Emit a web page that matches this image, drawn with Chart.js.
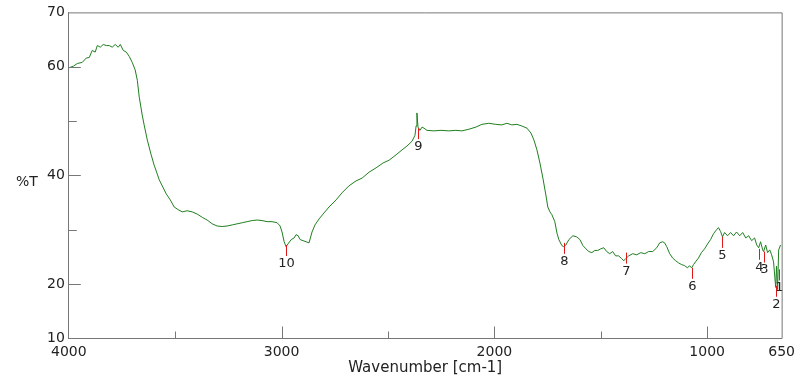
<!DOCTYPE html>
<html>
<head>
<meta charset="utf-8">
<script src="https://cdn.jsdelivr.net/npm/chart.js@4/dist/chart.umd.min.js"></script>
<style>
  body { margin: 0; background: #fff; }
  #wrap { width: 802px; height: 378px; }
</style>
</head>
<body>
<div id="wrap"><canvas id="irChart"></canvas></div>
<script>
// spectrum (wavenumber cm-1 / %T)
const wavenumbers = [
    4000, 3979, 3960, 3937, 3918, 3904, 3890, 3876, 3866, 3852, 3838, 3824, 3810, 3796, 3782, 3768,
    3758, 3744, 3730, 3716, 3702, 3688, 3678, 3669, 3655, 3646, 3631, 3613, 3599, 3575, 3556, 3542,
    3523, 3505, 3486, 3467, 3444, 3420, 3397, 3373, 3350, 3326, 3303, 3279, 3256, 3232, 3209, 3185,
    3162, 3138, 3115, 3092, 3068, 3045, 3021, 3007, 2998, 2988, 2979, 2970, 2955, 2941, 2932, 2922,
    2913, 2899, 2885, 2871, 2857, 2843, 2824, 2805, 2777, 2744, 2716, 2683, 2650, 2622, 2589, 2556,
    2523, 2495, 2462, 2434, 2411, 2387, 2373, 2368, 2364, 2359, 2350, 2340, 2331, 2317, 2284, 2251,
    2214, 2181, 2153, 2120, 2087, 2059, 2026, 1993, 1965, 1941, 1918, 1894, 1871, 1847, 1828, 1814,
    1800, 1786, 1772, 1758, 1749, 1739, 1730, 1716, 1706, 1697, 1683, 1674, 1664, 1650, 1631, 1613,
    1598, 1584, 1570, 1556, 1542, 1528, 1514, 1500, 1486, 1472, 1458, 1444, 1430, 1416, 1402, 1392,
    1383, 1369, 1350, 1331, 1312, 1293, 1275, 1256, 1237, 1223, 1209, 1200, 1190, 1176, 1162, 1148,
    1134, 1120, 1106, 1092, 1083, 1073, 1064, 1055, 1041, 1027, 1012, 998, 984, 970, 956, 947,
    937, 928, 918, 904, 890, 876, 862, 847, 833, 819, 805, 791, 777, 767, 758, 749,
    739, 735, 725, 716, 706, 697, 688, 678, 674, 669, 664, 655
];
const transmittance = [
    59.8, 60.1, 60.6, 60.8, 61.6, 61.7, 63.0, 62.7, 63.9, 63.6, 64.1, 63.9, 63.9, 63.6, 64.1, 63.6,
    64.1, 63.0, 62.7, 61.9, 60.8, 59.4, 57.5, 54.4, 51.1, 49.3, 46.5, 43.8, 41.9, 39.2, 37.7, 36.6,
    35.5, 34.2, 33.7, 33.3, 33.5, 33.3, 32.9, 32.3, 31.8, 31.1, 30.7, 30.6, 30.7, 30.9, 31.1, 31.3,
    31.5, 31.7, 31.8, 31.7, 31.5, 31.5, 31.3, 30.7, 29.6, 27.8, 26.9, 27.4, 28.2, 28.5, 29.1, 28.9,
    28.2, 28.0, 27.8, 27.6, 29.6, 30.9, 32.0, 32.9, 34.2, 35.5, 36.8, 38.1, 39.0, 39.5, 40.6, 41.4,
    42.3, 42.8, 43.8, 44.7, 45.4, 46.3, 47.4, 49.1, 51.5, 48.9, 48.3, 48.9, 48.7, 48.3, 48.2, 48.3,
    48.2, 48.3, 48.2, 48.5, 48.9, 49.4, 49.6, 49.4, 49.3, 49.6, 49.3, 49.4, 49.1, 48.7, 47.8, 46.5,
    44.7, 42.3, 39.5, 36.4, 34.2, 33.3, 32.8, 31.5, 29.4, 28.2, 27.1, 26.9, 27.2, 28.2, 28.9, 28.7,
    28.2, 27.1, 26.5, 26.0, 25.8, 26.2, 26.2, 26.5, 26.7, 26.0, 25.6, 26.0, 25.2, 25.2, 24.7, 24.3,
    24.7, 25.2, 25.6, 25.4, 25.8, 25.6, 26.0, 26.0, 26.7, 27.6, 27.8, 27.6, 26.9, 25.6, 24.8, 24.3,
    23.9, 23.6, 23.4, 23.0, 23.4, 23.0, 23.6, 24.1, 24.8, 25.8, 26.5, 27.4, 28.2, 29.3, 30.0, 30.4,
    29.7, 28.7, 29.5, 28.9, 29.5, 28.9, 29.6, 28.9, 29.5, 28.5, 28.9, 28.0, 28.5, 27.2, 26.7, 27.8,
    26.3, 26.0, 27.2, 25.8, 26.3, 25.4, 24.1, 19.4, 23.3, 19.0, 26.3, 27.2
];

// picked peaks: position, where the red mark starts, label
const peakWavenumbers = [2979, 2359, 1674, 1383, 1073, 932, 758, 735, 678, 664];
const peakTops = [27.2, 48.7, 27.6, 25.8, 23.0, 28.7, 26.5, 26.0, 19.7, 22.7];
const peakLabels = ['10', '9', '8', '7', '6', '5', '4', '3', '2', '1'];

const xTickValues = [4000, 3500, 3000, 2500, 2000, 1500, 1000, 650];
const xTickLabels = ['4000', '', '3000', '', '2000', '', '1000', '650'];
const yTickValues = [10, 20, 30, 40, 50, 60, 70];
const yTickLabels = ['10', '20', '', '40', '', '60', '70'];

const FONT = 'DejaVu Sans';

const frameAndMarks = {
    id: 'frameAndMarks',
    afterDatasetsDraw(chart) {
        const { ctx, chartArea: a, scales: { x, y } } = chart;
        ctx.save();
        // peak marks
        ctx.strokeStyle = '#e01818';
        ctx.lineWidth = 1;
        ctx.fillStyle = '#222';
        ctx.font = '13px "' + FONT + '"';
        ctx.textAlign = 'center';
        ctx.textBaseline = 'top';
        peakWavenumbers.forEach((wn, i) => {
            const px = Math.round(x.getPixelForValue(wn)) + 0.5;
            const py = y.getPixelForValue(peakTops[i]);
            ctx.beginPath();
            ctx.moveTo(px, py);
            ctx.lineTo(px, py + 11);
            ctx.stroke();
            ctx.fillText(peakLabels[i], px, py + 12);
        });

        // box + inward ticks
        ctx.strokeStyle = '#777';
        ctx.beginPath();
        ctx.moveTo(a.left, a.top + 0.5);
        ctx.lineTo(a.right + 0.5, a.top + 0.5);
        ctx.lineTo(a.right + 0.5, a.bottom);
        ctx.stroke();

        ctx.beginPath();
        xTickValues.forEach((v, i) => {
            if (v === 4000 || v === 650) return;
            const px = Math.round(x.getPixelForValue(v)) + 0.5;
            const len = xTickLabels[i] ? 12 : 7;
            ctx.moveTo(px, a.bottom);
            ctx.lineTo(px, a.bottom - len);
        });
        yTickValues.forEach((v, i) => {
            if (v === 10 || v === 70) return;
            const py = Math.round(y.getPixelForValue(v)) + 0.5;
            const len = yTickLabels[i] ? 12 : 8;
            ctx.moveTo(a.left, py);
            ctx.lineTo(a.left + len, py);
        });
        ctx.stroke();

        ctx.fillStyle = '#222';
        ctx.font = '14px "' + FONT + '"';
        ctx.textAlign = 'left';
        ctx.textBaseline = 'middle';
        ctx.fillText('%T', 16, 182);
        ctx.restore();
    }
};

const points = wavenumbers.map((wn, i) => ({ x: wn, y: transmittance[i] }));

new Chart(document.getElementById('irChart'), {
    type: 'line',
    data: {
        datasets: [{
            data: points,
            borderColor: '#1f7f1f',
            borderWidth: 1,
            pointRadius: 0,
            tension: 0,
            fill: false
        }]
    },
    options: {
        responsive: true,
        maintainAspectRatio: false,
        animation: false,
        layout: { padding: { left: 43, right: 20, top: 12, bottom: 2.5 } },
        plugins: { legend: { display: false }, tooltip: { enabled: false } },
        scales: {
            x: {
                type: 'linear', reverse: true, min: 650, max: 4000,
                afterBuildTicks: s => { s.ticks = xTickValues.map(v => ({ value: v })); },
                ticks: {
                    autoSkip: false, maxRotation: 0, minRotation: 0, padding: 7, color: '#222',
                    font: { family: FONT, size: 14, lineHeight: 1 },
                    callback: (v, i) => xTickLabels[i]
                },
                grid: { display: false, drawTicks: false },
                border: { display: true, color: '#777', width: 1 },
                title: {
                    display: true, text: 'Wavenumber [cm-1]', color: '#222',
                    font: { family: FONT, size: 15, lineHeight: 1 }, padding: { top: -6, bottom: 0 }
                }
            },
            y: {
                type: 'linear', min: 10, max: 70,
                afterBuildTicks: s => { s.ticks = yTickValues.map(v => ({ value: v })); },
                ticks: {
                    autoSkip: false, padding: 4, color: '#222',
                    font: { family: FONT, size: 14 },
                    callback: (v, i) => yTickLabels[i]
                },
                grid: { display: false, drawTicks: false },
                border: { display: true, color: '#777', width: 1 }
            }
        }
    },
    plugins: [frameAndMarks]
});
</script>
</body>
</html>
